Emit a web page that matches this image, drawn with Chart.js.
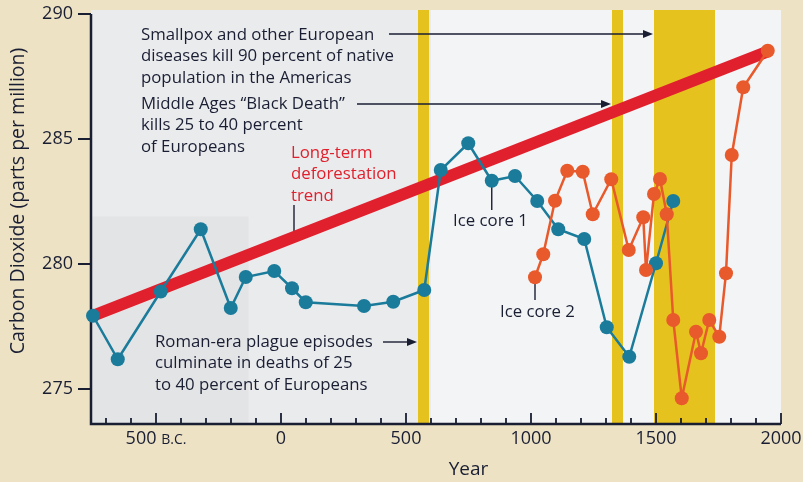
<!DOCTYPE html>
<html>
<head>
<meta charset="utf-8">
<script src="https://cdn.jsdelivr.net/npm/chart.js@4.4.1/dist/chart.umd.min.js"></script>
<style>
  html, body { margin: 0; padding: 0; background: #ede2c4; }
  #co2Chart { display: block; }
</style>
</head>
<body>
<canvas id="co2Chart" width="803" height="482"></canvas>
<script>
// Ice core records (year, CO2 ppm)
const core1Years = [-752, -653, -481, -321, -201, -141, -27, 44, 99, 332, 449, 573, 639, 749, 843, 936, 1025, 1109, 1213, 1303, 1393, 1500, 1569];
const core1Co2 = [277.93, 276.19, 278.9, 281.39, 278.24, 279.48, 279.72, 279.03, 278.47, 278.32, 278.49, 278.96, 283.76, 284.83, 283.33, 283.52, 282.52, 281.39, 281.0, 277.47, 276.29, 280.03, 282.52];

const core2Years = [1016, 1049, 1096, 1145, 1207, 1247, 1321, 1391, 1449, 1460, 1492, 1516, 1543, 1569, 1603, 1660, 1680, 1713, 1753, 1780, 1803, 1849, 1947];
const core2Co2 = [279.47, 280.39, 282.53, 283.73, 283.69, 281.99, 283.39, 280.56, 281.87, 279.76, 282.8, 283.4, 281.99, 277.76, 274.63, 277.29, 276.43, 277.76, 277.09, 279.63, 284.36, 287.07, 288.53];

const trendYears = [-760, 1947];
const trendCo2 = [277.9, 288.5];

// epidemic periods (yellow bands)
const bandStart = [548, 1324, 1492];
const bandEnd = [592, 1368, 1736];

const yTicks = [275, 280, 285, 290];
const xMajorTicks = [-500, 0, 500, 1000, 1500, 2000];
const xTickLabels = ["500", "0", "500", "1000", "1500", "2000"];
const xMinorStep = 100;

const navy = "#1a1e33";
const FONT = "'Open Sans', sans-serif";

const toPoints = (xs, ys) => xs.map((x, i) => ({ x: x, y: ys[i] }));

const backdrop = {
  id: "backdrop",
  beforeDatasetsDraw(chart) {
    const { ctx, chartArea: a, scales: { x, y } } = chart;
    ctx.save();
    ctx.fillStyle = "#eaebed";
    ctx.fillRect(a.left, a.top, a.right - a.left, a.bottom - a.top);
    // paler right half of the panel
    ctx.fillStyle = "#f3f4f5";
    ctx.fillRect(x.getPixelForValue(600), a.top, a.right - x.getPixelForValue(600), a.bottom - a.top);
    // slightly darker block low on the left
    ctx.fillStyle = "#e3e4e6";
    ctx.fillRect(a.left, y.getPixelForValue(281.9), x.getPixelForValue(-130) - a.left, a.bottom - y.getPixelForValue(281.9));

    // yellow bands
    ctx.fillStyle = "#e6c21e";
    bandStart.forEach((s, i) => {
      const x0 = x.getPixelForValue(s);
      const x1 = x.getPixelForValue(bandEnd[i]);
      ctx.fillRect(x0, a.top, x1 - x0, a.bottom - a.top);
    });

    // axes
    ctx.strokeStyle = navy;
    ctx.lineWidth = 2.5;
    ctx.beginPath();
    ctx.moveTo(a.left, y.getPixelForValue(290));
    ctx.lineTo(a.left, a.bottom);
    ctx.lineTo(x.getPixelForValue(2000), a.bottom);
    ctx.stroke();

    ctx.lineWidth = 1.8;
    ctx.beginPath();
    yTicks.forEach(v => {
      const py = y.getPixelForValue(v);
      ctx.moveTo(a.left - 13, py);
      ctx.lineTo(a.left, py);
    });
    for (let v = -700; v <= 2000; v += xMinorStep) {
      const px = x.getPixelForValue(v);
      const len = v % 500 === 0 ? 11 : 6;
      ctx.moveTo(px, a.bottom);
      ctx.lineTo(px, a.bottom - len);
    }
    ctx.stroke();

    // tick labels
    ctx.fillStyle = navy;
    ctx.font = "18px " + FONT;
    ctx.textAlign = "right";
    ctx.textBaseline = "middle";
    yTicks.forEach(v => ctx.fillText(String(v), a.left - 18, y.getPixelForValue(v)));

    ctx.textAlign = "center";
    xMajorTicks.forEach((v, i) => {
      const px = x.getPixelForValue(v);
      if (v < 0) {
        ctx.font = "18px " + FONT;
        const w1 = ctx.measureText(xTickLabels[i] + " ").width;
        ctx.font = "14px " + FONT;
        const w2 = ctx.measureText("B.C.").width;
        const left = px - (w1 + w2) / 2;
        ctx.textAlign = "left";
        ctx.font = "18px " + FONT;
        ctx.fillText(xTickLabels[i] + " ", left, a.bottom + 15);
        ctx.font = "14px " + FONT;
        ctx.fillText("B.C.", left + w1, a.bottom + 16);
        ctx.textAlign = "center";
      } else {
        ctx.font = "18px " + FONT;
        ctx.fillText(xTickLabels[i], px, a.bottom + 15);
      }
    });

    // axis titles
    ctx.font = "19px " + FONT;
    ctx.fillText("Year", x.getPixelForValue(750), a.bottom + 46);
    ctx.save();
    ctx.translate(18, y.getPixelForValue(282.52));
    ctx.rotate(-Math.PI / 2);
    ctx.font = "19.5px " + FONT;
    ctx.fillText("Carbon Dioxide (parts per million)", 0, 0);
    ctx.restore();

    // annotations
    const lines = (txt, yr, ppm, color) => {
      ctx.fillStyle = color || navy;
      ctx.font = "16.8px " + FONT;
      ctx.textAlign = "left";
      const px = x.getPixelForValue(yr);
      const py = y.getPixelForValue(ppm);
      txt.forEach((t, i) => ctx.fillText(t, px, py + i * 21.5));
    };
    const arrow = (fromYr, toYr, ppm) => {
      const x0 = x.getPixelForValue(fromYr);
      const x1 = x.getPixelForValue(toYr);
      const py = y.getPixelForValue(ppm);
      ctx.strokeStyle = navy;
      ctx.fillStyle = navy;
      ctx.lineWidth = 1.4;
      ctx.beginPath();
      ctx.moveTo(x0, py);
      ctx.lineTo(x1 - 6, py);
      ctx.stroke();
      ctx.beginPath();
      ctx.moveTo(x1, py);
      ctx.lineTo(x1 - 10, py - 4);
      ctx.lineTo(x1 - 10, py + 4);
      ctx.closePath();
      ctx.fill();
    };
    const leader = (yr, fromPpm, toPpm) => {
      const px = x.getPixelForValue(yr);
      ctx.strokeStyle = navy;
      ctx.lineWidth = 1.4;
      ctx.beginPath();
      ctx.moveTo(px, y.getPixelForValue(fromPpm));
      ctx.lineTo(px, y.getPixelForValue(toPpm));
      ctx.stroke();
    };

    lines(["Smallpox and other European", "diseases kill 90 percent of native", "population in the Americas"], -560, 289.16);
    arrow(432, 1488, 289.2);
    lines(["Middle Ages \u201cBlack Death\u201d", "kills 25 to 40 percent", "of Europeans"], -560, 286.4);
    arrow(304, 1320, 286.4);
    lines(["Long-term", "deforestation", "trend"], 40, 284.44, "#e0202c");
    leader(52, 282.36, 281.0);
    lines(["Ice core 1"], 688, 281.72);
    leader(843, 283.33, 282.16);
    lines(["Ice core 2"], 876, 278.08);
    leader(1016, 279.47, 278.56);
    lines(["Roman-era plague episodes", "culminate in deaths of 25", "to 40 percent of Europeans"], -504, 276.88);
    arrow(408, 544, 276.88);
    ctx.restore();
  }
};

new Chart(document.getElementById("co2Chart"), {
  type: "line",
  data: {
    datasets: [
      {
        label: "Ice core 2",
        data: toPoints(core2Years, core2Co2),
        borderColor: "#e8592b",
        backgroundColor: "#e8592b",
        borderWidth: 2.5,
        pointRadius: 7,
        pointBorderWidth: 0,
        tension: 0,
        clip: false,
        order: 1
      },
      {
        label: "Ice core 1",
        data: toPoints(core1Years, core1Co2),
        borderColor: "#1a7b9b",
        backgroundColor: "#1a7b9b",
        borderWidth: 2.5,
        pointRadius: 7,
        pointBorderWidth: 0,
        tension: 0,
        clip: false,
        order: 2
      },
      {
        label: "Long-term deforestation trend",
        data: toPoints(trendYears, trendCo2),
        borderColor: "#e1202e",
        borderWidth: 12,
        pointRadius: 0,
        borderCapStyle: "butt",
        clip: false,
        order: 3
      }
    ]
  },
  options: {
    responsive: false,
    animation: false,
    devicePixelRatio: 1,
    layout: { padding: { left: 91, right: 22, top: 10, bottom: 58 } },
    plugins: { legend: { display: false }, tooltip: { enabled: false } },
    scales: {
      x: { type: "linear", min: -760, max: 2000, display: false },
      y: { min: 273.6, max: 290.16, display: false }
    }
  },
  plugins: [backdrop]
});
</script>
</body>
</html>
